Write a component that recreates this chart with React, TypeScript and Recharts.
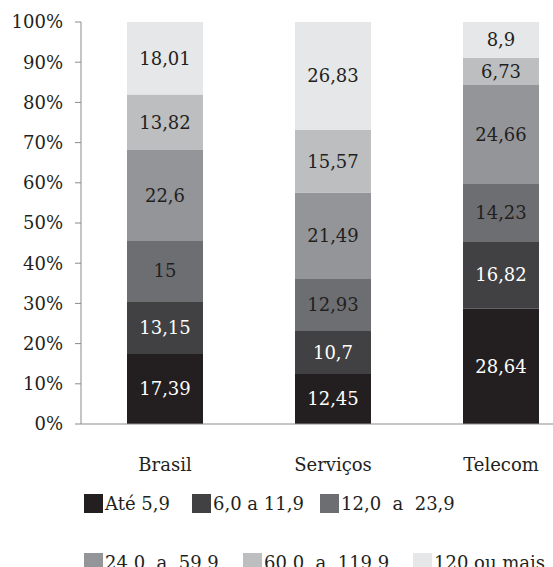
import React from 'react';
import { BarChart, Bar, XAxis, YAxis, LabelList } from 'recharts';

const categories = ['Brasil', 'Serviços', 'Telecom'];

const ate59 = [17.39, 12.45, 28.64];
const de6a119 = [13.15, 10.7, 16.82];
const de12a239 = [15, 12.93, 14.23];
const de24a599 = [22.6, 21.49, 24.66];
const de60a1199 = [13.82, 15.57, 6.73];
const mais120 = [18.01, 26.83, 8.9];

const seriesNames = ['Até 5,9', '6,0 a 11,9', '12,0  a  23,9', '24,0  a  59,9', '60,0  a  119,9', '120 ou mais'];
const seriesColors = ['#231f20', '#414042', '#6d6e71', '#939598', '#bcbec0', '#e6e7e8'];
const labelColors = ['#ffffff', '#ffffff', '#231f20', '#231f20', '#231f20', '#231f20'];
const yTicks = [0, 10, 20, 30, 40, 50, 60, 70, 80, 90, 100];

const seriesValues = [ate59, de6a119, de12a239, de24a599, de60a1199, mais120];
const keys = ['s0', 's1', 's2', 's3', 's4', 's5'];

const chartData = categories.map((name, i) => {
  const row: Record<string, string | number> = { name };
  seriesValues.forEach((vals, s) => {
    row[keys[s]] = vals[i];
  });
  return row;
});

const FONT = '"DejaVu Serif", serif';

// legend rows as they sit in the original
const legendRows = [
  [{ idx: 0, left: 84 }, { idx: 1, left: 192 }, { idx: 2, left: 320 }],
  [{ idx: 3, left: 84 }, { idx: 4, left: 243 }, { idx: 5, left: 413 }],
];
const legendTops = [494, 553];

const fmt = (v: any) => String(v).replace('.', ',');

const App: React.FC = () => {
  return (
    <div
      style={{
        position: 'absolute',
        top: 0,
        left: 0,
        width: 553,
        height: 567,
        overflow: 'hidden',
        background: '#fff',
        fontFamily: FONT,
      }}
    >
      <BarChart
        width={585}
        height={480}
        data={chartData}
        margin={{ top: 22, right: 0, left: 0, bottom: 0 }}
      >
        <XAxis
          dataKey="name"
          height={56}
          tickLine={false}
          tickSize={0}
          tickMargin={34}
          axisLine={{ stroke: '#8a8a8a' }}
          tick={{ fill: '#231f20', fontSize: 18, fontFamily: FONT }}
        />
        <YAxis
          width={81}
          domain={[0, 100]}
          ticks={yTicks}
          interval={0}
          tickSize={6}
          tickMargin={12}
          tickFormatter={(v) => `${v}%`}
          axisLine={{ stroke: '#8a8a8a' }}
          tickLine={{ stroke: '#8a8a8a' }}
          tick={{ fill: '#231f20', fontSize: 18, fontFamily: FONT }}
        />
        {keys.map((k, s) => (
          <Bar key={k} dataKey={k} stackId="a" fill={seriesColors[s]} barSize={76} isAnimationActive={false}>
            <LabelList
              dataKey={k}
              position="center"
              formatter={fmt}
              fill={labelColors[s]}
              style={{ fontSize: 18, fontFamily: FONT }}
            />
          </Bar>
        ))}
      </BarChart>

      {/* legend */}
      {legendRows.map((row, r) =>
        row.map((item) => (
          <div
            key={item.idx}
            style={{
              position: 'absolute',
              top: legendTops[r],
              left: item.left,
              display: 'flex',
              alignItems: 'center',
              height: 19,
              whiteSpace: 'pre',
              fontSize: 18,
              color: '#231f20',
            }}
          >
            <span style={{ display: 'inline-block', width: 19, height: 19, background: seriesColors[item.idx], marginRight: 2 }} />
            <span>{seriesNames[item.idx]}</span>
          </div>
        ))
      )}
    </div>
  );
};

export default App;
